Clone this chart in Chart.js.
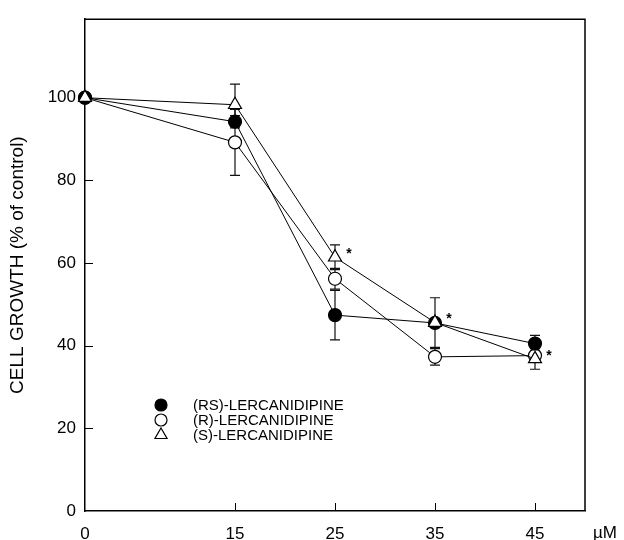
<!DOCTYPE html>
<html>
<head>
<meta charset="utf-8">
<script src="https://cdn.jsdelivr.net/npm/chart.js@4.4.1/dist/chart.umd.min.js"></script>
<style>
  html, body { margin: 0; padding: 0; background: #fff; }
  #wrap { width: 624px; height: 540px; }
</style>
</head>
<body>
<div id="wrap"><canvas id="chart" width="624" height="540"></canvas></div>
<script>
// concentrations (µM) and cell growth (% of control)
const doses = [0, 15, 25, 35, 45];
const rsGrowth = [100, 94.2, 47.4, 45.5, 40.5];
const rsErr = [0, 1.5, 6, 1, 2];
const rGrowth = [100, 89.2, 56.2, 37.3, 37.6];
const rErr = [0, 8, 2.5, 2, 1];
const sGrowth = [100, 98.3, 61.4, 45.6, 36.8];
const sErr = [0, 5, 3, 6, 2.5];
const sSignificant = [false, false, true, true, true];
const xTicks = [0, 15, 25, 35, 45];
const yTicks = [0, 20, 40, 60, 80, 100];
const seriesNames = ['(RS)-LERCANIDIPINE', '(R)-LERCANIDIPINE', '(S)-LERCANIDIPINE'];

const FONT = "'Liberation Sans', Arial, Helvetica, sans-serif";

function pts(values) {
    return doses.map((d, i) => ({ x: d, y: values[i] }));
}

const errors = [rsErr, rErr, sErr];
const values = [rsGrowth, rGrowth, sGrowth];

// frame, inward ticks and error bars under the markers
const underlay = {
    id: 'underlay',
    beforeDatasetsDraw(chart) {
        const { ctx, chartArea: a, scales: { x, y } } = chart;
        ctx.save();
        ctx.strokeStyle = '#000';
        ctx.lineWidth = 1.5;
        ctx.beginPath();
        ctx.moveTo(a.left, a.top);
        ctx.lineTo(a.right, a.top);
        ctx.lineTo(a.right, a.bottom);
        ctx.stroke();

        ctx.lineWidth = 1;
        ctx.beginPath();
        yTicks.slice(1).forEach(v => {
            const py = Math.round(y.getPixelForValue(v)) + 0.5;
            ctx.moveTo(a.left, py);
            ctx.lineTo(a.left + 8, py);
        });
        xTicks.slice(1).forEach(v => {
            const px = Math.round(x.getPixelForValue(v)) + 0.5;
            ctx.moveTo(px, a.bottom);
            ctx.lineTo(px, a.bottom - 8);
        });
        ctx.stroke();

        // error bars
        ctx.strokeStyle = '#111';
        ctx.lineWidth = 1.2;
        errors.forEach((err, s) => {
            doses.forEach((d, i) => {
                if (!err[i]) return;
                const px = x.getPixelForValue(d);
                const top = y.getPixelForValue(values[s][i] + err[i]);
                const bot = y.getPixelForValue(values[s][i] - err[i]);
                ctx.beginPath();
                ctx.moveTo(px, top);
                ctx.lineTo(px, bot);
                ctx.moveTo(px - 5, top);
                ctx.lineTo(px + 5, top);
                ctx.moveTo(px - 5, bot);
                ctx.lineTo(px + 5, bot);
                ctx.stroke();
            });
        });
        ctx.restore();
    }
};

// significance stars, legend and unit label
const overlay = {
    id: 'overlay',
    afterDraw(chart) {
        const { ctx, scales: { x, y } } = chart;
        ctx.save();
        ctx.fillStyle = '#000';
        ctx.font = 'bold 14px ' + FONT;
        ctx.textAlign = 'center';
        ctx.textBaseline = 'middle';
        doses.forEach((d, i) => {
            if (!sSignificant[i]) return;
            ctx.fillText('*', x.getPixelForValue(d) + 14, y.getPixelForValue(sGrowth[i]) - 3);
        });

        const styles = [
            { pointStyle: 'circle', radius: 6, fill: '#000' },
            { pointStyle: 'circle', radius: 6, fill: '#fff' },
            { pointStyle: 'triangle', radius: 7, fill: '#fff' }
        ];
        ctx.font = '15px ' + FONT;
        ctx.textAlign = 'left';
        seriesNames.forEach((name, i) => {
            const ly = 405 + i * 15;
            ctx.fillStyle = styles[i].fill;
            ctx.strokeStyle = '#000';
            ctx.lineWidth = 1.2;
            Chart.helpers.drawPoint(ctx, { pointStyle: styles[i].pointStyle, radius: styles[i].radius, borderWidth: 1.2, rotation: 0 }, 161, ly);
            ctx.fillStyle = '#000';
            ctx.fillText(name, 193, ly + 1);
        });

        ctx.font = '17px ' + FONT;
        ctx.textAlign = 'center';
        ctx.fillText('µM', 605, 533);
        ctx.restore();
    }
};

const lineStyle = { showLine: true, clip: false, borderColor: '#000', borderWidth: 1, tension: 0, pointBorderColor: '#000', pointBorderWidth: 1.2 };

const ctx = document.getElementById('chart').getContext('2d');
new Chart(ctx, {
    type: 'scatter',
    data: {
        datasets: [
            Object.assign({ label: seriesNames[0], data: pts(rsGrowth), pointStyle: 'circle', pointRadius: 6.5, pointBackgroundColor: '#000', order: 2 }, lineStyle),
            Object.assign({ label: seriesNames[1], data: pts(rGrowth), pointStyle: 'circle', pointRadius: 6.5, pointBackgroundColor: '#fff', order: 3 }, lineStyle),
            Object.assign({ label: seriesNames[2], data: pts(sGrowth), pointStyle: 'triangle', pointRadius: 7.5, pointBackgroundColor: '#fff', order: 1 }, lineStyle)
        ]
    },
    options: {
        responsive: false,
        animation: false,
        layout: { padding: { top: 16, right: 39, left: 0, bottom: 0 } },
        plugins: { legend: { display: false }, tooltip: { enabled: false } },
        scales: {
            x: {
                type: 'linear',
                min: 0,
                max: 50,
                afterBuildTicks: s => { s.ticks = xTicks.map(v => ({ value: v })); },
                afterFit: s => { s.height = 29; },
                grid: { display: false, drawTicks: false },
                border: { display: true, color: '#000', width: 1.5 },
                ticks: { color: '#000', padding: 13, font: { family: FONT, size: 17 }, maxRotation: 0 }
            },
            y: {
                min: 0,
                max: 119,
                afterBuildTicks: s => { s.ticks = yTicks.map(v => ({ value: v })); },
                afterFit: s => { s.width = 85; },
                grid: { display: false, drawTicks: false },
                border: { display: true, color: '#000', width: 1.5 },
                ticks: { color: '#000', padding: 9, font: { family: FONT, size: 17 } },
                title: {
                    display: true,
                    text: 'CELL GROWTH (% of control)',
                    color: '#000',
                    font: { family: FONT, size: 19 },
                    padding: { top: 6, bottom: 0 }
                }
            }
        }
    },
    plugins: [underlay, overlay]
});
</script>
</body>
</html>
